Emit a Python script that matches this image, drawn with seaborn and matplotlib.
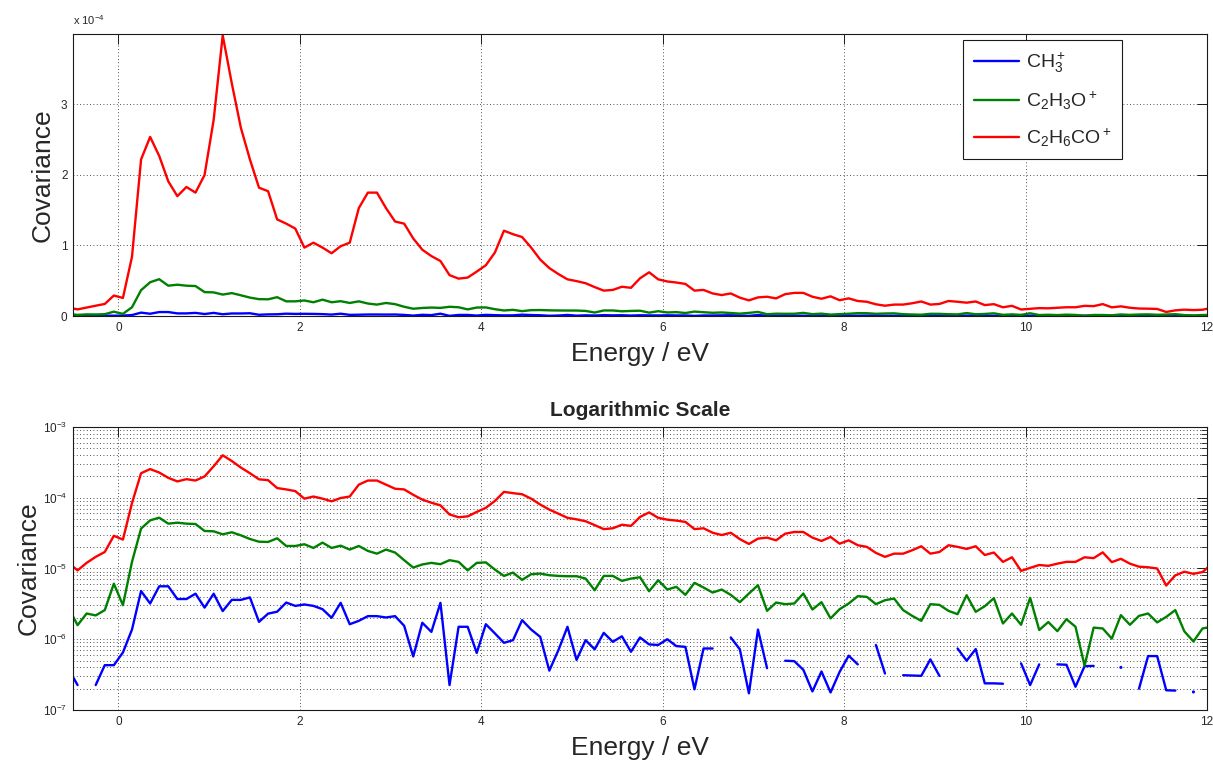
import numpy as np
import pandas as pd
import seaborn as sns
import matplotlib.pyplot as plt
from matplotlib.ticker import FuncFormatter, LogLocator, NullFormatter

# covariance vs energy for three fragment ions, 0.1 eV bins starting at -0.55 eV
# nan = covariance <= 0 (not shown on the log panel)
ions = ['CH$_3^+$', 'C$_2$H$_3$O$^+$', 'C$_2$H$_6$CO$^+$']
colors = ['#0000ff', '#008000', '#ff0000']

ch3 = [3.8e-7, 2.25e-7, np.nan, 2.25e-7, 4.3e-7, 4.3e-7, 6.5e-7, 1.37e-6, 4.8e-6, 3.2e-6,
       5.6e-6, 5.6e-6, 3.7e-6, 3.7e-6, 4.4e-6, 2.8e-6, 4.4e-6, 2.5e-6, 3.6e-6, 3.6e-6,
       3.9e-6, 1.76e-6, 2.3e-6, 2.45e-6, 3.3e-6, 2.96e-6, 3.1e-6, 2.96e-6, 2.66e-6, 2.01e-6,
       3.27e-6, 1.63e-6, 1.82e-6, 2.12e-6, 2.12e-6, 2.03e-6, 2.12e-6, 1.55e-6, 5.7e-7, 1.71e-6,
       1.27e-6, 3.27e-6, 2.25e-7, 1.5e-6, 1.5e-6, 6.4e-7, 1.63e-6, 1.21e-6, 8.9e-7, 9.7e-7,
       1.86e-6, 1.37e-6, 1.08e-6, 3.6e-7, 7.0e-7, 1.5e-6, 5.1e-7, 9.7e-7, 7.2e-7, 1.23e-6,
       9.2e-7, 1.1e-6, 6.65e-7, 1.06e-6, 8.45e-7, 8.3e-7, 1.0e-6, 8.0e-7, 7.8e-7, 1.96e-7,
       7.4e-7, 7.4e-7, np.nan, 1.06e-6, 7.2e-7, 1.72e-7, 1.37e-6, 3.9e-7, np.nan, 4.97e-7,
       4.9e-7, 3.7e-7, 1.83e-7, 3.5e-7, 1.77e-7, 3.46e-7, 5.85e-7, 4.41e-7, np.nan, 8.3e-7,
       3.28e-7, np.nan, 3.1e-7, 3.07e-7, 3.04e-7, 5.19e-7, 3.04e-7, np.nan, 7.4e-7, 4.97e-7,
       7.26e-7, 2.38e-7, 2.38e-7, 2.35e-7, np.nan, 4.56e-7, 2.25e-7, 4.41e-7, np.nan, 4.41e-7,
       4.36e-7, 2.13e-7, 4.16e-7, 4.2e-7, np.nan, np.nan, 4.0e-7, np.nan, 2.0e-7, 5.78e-7,
       5.78e-7, 1.9e-7, 1.88e-7, np.nan, 1.8e-7, np.nan, np.nan]

c2h3o = [2.8e-6, 1.58e-6, 2.31e-6, 2.17e-6, 2.58e-6, 6.1e-6, 3.03e-6, 1.24e-5, 3.66e-5, 4.79e-5,
         5.22e-5, 4.3e-5, 4.44e-5, 4.3e-5, 4.25e-5, 3.39e-5, 3.35e-5, 3.04e-5, 3.25e-5, 2.94e-5,
         2.61e-5, 2.39e-5, 2.37e-5, 2.67e-5, 2.08e-5, 2.08e-5, 2.2e-5, 1.95e-5, 2.32e-5, 1.95e-5,
         2.1e-5, 1.85e-5, 2.08e-5, 1.77e-5, 1.62e-5, 1.85e-5, 1.68e-5, 1.31e-5, 1.03e-5, 1.14e-5,
         1.2e-5, 1.15e-5, 1.31e-5, 1.24e-5, 9.4e-6, 1.2e-5, 1.22e-5, 9.65e-6, 7.85e-6, 8.75e-6,
         6.9e-6, 8.3e-6, 8.48e-6, 8.03e-6, 7.85e-6, 7.77e-6, 7.77e-6, 7.2e-6, 4.93e-6, 7.85e-6,
         7.85e-6, 6.68e-6, 7.2e-6, 7.52e-6, 4.77e-6, 6.82e-6, 5.04e-6, 5.5e-6, 4.24e-6, 6.26e-6,
         5.38e-6, 4.57e-6, 5.04e-6, 4.24e-6, 3.34e-6, 4.43e-6, 5.8e-6, 2.52e-6, 3.3e-6, 3.13e-6,
         3.2e-6, 4.43e-6, 2.63e-6, 3.34e-6, 1.97e-6, 2.66e-6, 3.2e-6, 4.06e-6, 3.97e-6, 3.13e-6,
         3.56e-6, 3.76e-6, 2.58e-6, 2.14e-6, 1.82e-6, 3.13e-6, 3.06e-6, 2.52e-6, 2.26e-6, 4.19e-6,
         2.44e-6, 2.93e-6, 3.8e-6, 1.67e-6, 2.31e-6, 1.6e-6, 3.85e-6, 1.35e-6, 1.75e-6, 1.3e-6,
         1.92e-6, 1.5e-6, 4.22e-7, 1.46e-6, 1.42e-6, 1.02e-6, 2.19e-6, 1.6e-6, 2.14e-6, 2.31e-6,
         1.73e-6, 2.07e-6, 2.58e-6, 1.29e-6, 9.3e-7, 1.42e-6, 1.5e-6]

c2h6co = [1.2e-5, 9.4e-6, 1.2e-5, 1.46e-5, 1.71e-5, 2.9e-5, 2.56e-5, 8.4e-5, 2.22e-4, 2.54e-4,
          2.27e-4, 1.91e-4, 1.70e-4, 1.83e-4, 1.75e-4, 2.0e-4, 2.78e-4, 3.98e-4, 3.3e-4, 2.67e-4,
          2.22e-4, 1.82e-4, 1.77e-4, 1.37e-4, 1.31e-4, 1.24e-4, 9.7e-5, 1.04e-4, 9.7e-5, 8.9e-5,
          9.9e-5, 1.04e-4, 1.53e-4, 1.75e-4, 1.75e-4, 1.53e-4, 1.34e-4, 1.31e-4, 1.10e-4, 9.4e-5,
          8.5e-5, 7.8e-5, 5.8e-5, 5.3e-5, 5.45e-5, 6.3e-5, 7.2e-5, 9.0e-5, 1.21e-4, 1.16e-4,
          1.12e-4, 9.7e-5, 8.0e-5, 6.8e-5, 5.95e-5, 5.2e-5, 4.95e-5, 4.65e-5, 4.1e-5, 3.6e-5,
          3.7e-5, 4.15e-5, 4.0e-5, 5.35e-5, 6.2e-5, 5.2e-5, 4.9e-5, 4.75e-5, 4.55e-5, 3.6e-5,
          3.7e-5, 3.2e-5, 2.97e-5, 3.2e-5, 2.6e-5, 2.22e-5, 2.64e-5, 2.73e-5, 2.5e-5, 3.1e-5,
          3.28e-5, 3.28e-5, 2.73e-5, 2.45e-5, 2.79e-5, 2.24e-5, 2.5e-5, 2.13e-5, 2.02e-5, 1.66e-5,
          1.46e-5, 1.62e-5, 1.62e-5, 1.81e-5, 2.06e-5, 1.62e-5, 1.71e-5, 2.13e-5, 2.02e-5, 1.89e-5,
          2.06e-5, 1.55e-5, 1.68e-5, 1.24e-5, 1.44e-5, 9.25e-6, 1.02e-5, 1.12e-5, 1.09e-5, 1.17e-5,
          1.24e-5, 1.24e-5, 1.44e-5, 1.40e-5, 1.69e-5, 1.23e-5, 1.37e-5, 1.17e-5, 1.06e-5, 1.04e-5,
          1.0e-5, 5.74e-6, 8.0e-6, 9.0e-6, 8.4e-6, 8.9e-6, 1.15e-5]

energy = np.round(-0.55 + 0.1 * np.arange(len(ch3)), 2)

frames = []
for name, vals in zip(ions, [ch3, c2h3o, c2h6co]):
    d = pd.DataFrame({'energy': energy, 'cov': vals, 'ion': name})
    gap = d['cov'].isna()
    d['seg'] = gap.cumsum()  # unbroken runs for the log panel
    # single valid bins between two gaps: drawn as dots
    d['lone'] = ~gap & gap.shift(1, fill_value=True) & gap.shift(-1, fill_value=True)
    frames.append(d)
df = pd.concat(frames, ignore_index=True)

sns.set_theme(style='white')
plt.rcParams['font.family'] = ['Liberation Sans', 'DejaVu Sans']
plt.rcParams['mathtext.fontset'] = 'custom'
plt.rcParams['mathtext.rm'] = 'Liberation Sans'
plt.rcParams['mathtext.it'] = 'Liberation Sans:italic'
plt.rcParams['mathtext.bf'] = 'Liberation Sans:bold'

grid_kw = dict(color='k', linestyle=(0, (1, 3)), linewidth=0.6)
lab_fs = 19
tick_fs = 8.5

fig = plt.figure(figsize=(12.13, 7.6), dpi=100)
ax1 = fig.add_axes([0.0602, 0.5842, 0.9349, 0.3711])
ax2 = fig.add_axes([0.0602, 0.0658, 0.9349, 0.3724])

# linear panel
sns.lineplot(data=df, x='energy', y='cov', hue='ion', hue_order=ions, palette=colors,
             estimator=None, linewidth=1.7, ax=ax1)
ax1.set_xlim(-0.5, 12)
ax1.set_ylim(0, 4e-4)
ax1.set_xticks(range(0, 13, 2))
ax1.set_yticks([0, 1e-4, 2e-4, 3e-4])
ax1.yaxis.set_major_formatter(FuncFormatter(lambda v, p: '%g' % round(v / 1e-4, 3)))
ax1.text(0.0, 1.025, r'x 10$^{-4}$', transform=ax1.transAxes, ha='left', va='bottom', fontsize=8)
ax1.grid(True, **grid_kw)
ax1.set_xlabel('Energy / eV', fontsize=lab_fs, labelpad=6)
ax1.set_ylabel('Covariance', fontsize=lab_fs)
ax1.yaxis.set_label_coords(-0.016, 0.5)
handles, labels = ax1.get_legend_handles_labels()
leg = ax1.legend(handles, labels, loc='upper right', bbox_to_anchor=(0.925, 0.979),
                 borderaxespad=0, fontsize=14, handlelength=2.3, handletextpad=0.35,
                 labelspacing=0.75, borderpad=0.55, fancybox=False, framealpha=1,
                 edgecolor='k')
leg.get_frame().set_linewidth(0.8)

# log panel
ax2.set_yscale('log', nonpositive='mask')
sns.lineplot(data=df.dropna(), x='energy', y='cov', hue='ion', hue_order=ions, palette=colors,
             units='seg', estimator=None, linewidth=1.7, legend=False, ax=ax2)
sns.scatterplot(data=df[df['lone']], x='energy', y='cov', hue='ion', hue_order=ions,
                palette=colors, s=5, linewidth=0, legend=False, ax=ax2)
ax2.set_xlim(-0.5, 12)
ax2.set_ylim(1e-7, 1e-3)
ax2.set_xticks(range(0, 13, 2))
ax2.yaxis.set_major_locator(LogLocator(base=10))
ax2.yaxis.set_minor_locator(LogLocator(base=10, subs=np.arange(2, 10)))
ax2.yaxis.set_minor_formatter(NullFormatter())
ax2.grid(True, which='major', **grid_kw)
ax2.grid(True, which='minor', axis='y', **grid_kw)
ax2.set_title('Logarithmic Scale', fontsize=15, fontweight='bold', pad=8)
ax2.set_xlabel('Energy / eV', fontsize=lab_fs, labelpad=6)
ax2.set_ylabel('Covariance', fontsize=lab_fs)
ax2.yaxis.set_label_coords(-0.029, 0.5)

for ax in (ax1, ax2):
    ax.set_axisbelow(True)
    for sp in ax.spines.values():
        sp.set_color('k')
        sp.set_linewidth(0.8)
    ax.tick_params(which='major', direction='in', top=True, right=True, length=7,
                   width=0.7, color='k', labelsize=tick_fs, pad=4)
    ax.tick_params(which='minor', direction='in', top=False, right=True, length=4,
                   width=0.6, color='k')

fig.savefig('out.png', dpi=100)
